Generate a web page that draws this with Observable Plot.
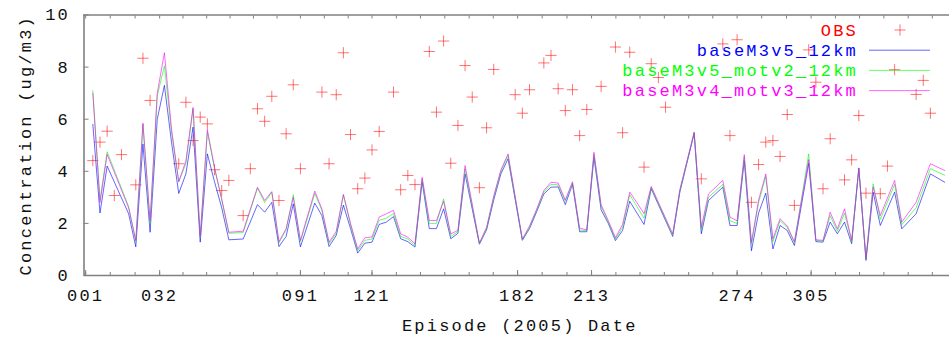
<!DOCTYPE html>
<html>
<head>
<meta charset="utf-8">
<script src="https://cdn.jsdelivr.net/npm/d3@7"></script>
<script src="https://cdn.jsdelivr.net/npm/@observablehq/plot@0.6"></script>
<style>
  html, body { margin: 0; padding: 0; background: #fff; }
  #chart { width: 949px; height: 340px; }
</style>
</head>
<body>
<div id="chart"></div>
<script>
// Sampling days (day of year, 2005) of the model runs
const days = [4,7,10,19,22,25,28,31,34,37,40,43,46,49,52,55,58,61,67,73,76,79,82,85,88,91,97,100,103,106,109,112,115,118,121,124,127,130,133,136,139,142,145,148,151,154,157,160,166,169,172,175,178,184,187,190,193,196,199,202,205,208,211,214,217,220,223,226,229,232,235,238,247,250,256,259,262,268,271,274,277,280,283,286,289,292,295,298,304,307,310,313,316,319,322,325,328,331,334,340,343,349,355,361];

// Modelled concentrations (ug/m3)
const baseM3v5_12km = [5.8,2.4,4.2,2.37,1.1,5.05,1.66,6.0,7.3,5.1,3.15,3.9,5.7,1.28,4.67,3.6,2.6,1.37,1.4,2.72,2.43,2.81,1.11,1.5,2.75,1.1,2.78,2.3,1.11,1.54,2.7,1.8,0.86,1.24,1.28,1.96,2.05,2.26,1.41,1.3,1.09,3.6,1.8,1.8,2.56,1.41,1.62,3.9,1.2,1.75,2.9,3.9,4.48,1.35,1.8,2.45,3.13,3.39,3.4,2.72,3.5,1.68,1.68,4.54,2.52,2.0,1.34,1.73,2.85,2.4,1.96,3.33,1.5,3.2,5.45,1.6,2.88,3.39,1.92,1.92,4.41,0.95,2.4,3.16,1.02,1.92,1.73,1.15,4.31,1.3,1.28,2.05,1.6,2.05,1.22,4.13,0.58,3.2,1.92,3.2,1.79,2.37,3.9,3.58];
const baseM3v5_motv2_12km = [7.1,2.9,4.75,2.65,1.3,5.8,2.0,6.9,8.05,5.5,3.6,4.3,6.4,1.45,5.5,4.1,2.9,1.62,1.65,3.35,2.8,3.2,1.25,1.75,3.1,1.3,3.15,2.5,1.22,1.62,3.1,1.95,0.95,1.35,1.4,2.12,2.2,2.38,1.5,1.4,1.15,3.7,2.0,2.0,2.94,1.5,1.68,4.1,1.22,1.8,3.0,4.0,4.6,1.37,1.85,2.5,3.2,3.5,3.48,2.85,3.55,1.75,1.72,4.65,2.65,2.05,1.4,1.85,3.1,2.65,2.2,3.38,1.55,3.25,5.5,1.75,3.0,3.5,2.1,2.0,4.55,1.2,2.8,3.8,1.3,2.1,1.85,1.25,4.67,1.35,1.32,2.3,1.7,2.4,1.3,4.1,0.62,3.52,2.15,3.5,1.95,2.6,4.1,3.85];
const baseM3v4_motv3_12km = [7.0,2.8,4.65,2.6,1.35,5.85,2.1,7.0,8.55,5.6,3.6,4.4,6.45,1.5,5.6,4.15,2.95,1.66,1.7,3.39,2.88,3.22,1.3,1.8,3.0,1.35,3.24,2.55,1.28,1.7,3.11,2.0,1.02,1.45,1.48,2.24,2.37,2.5,1.6,1.47,1.22,3.77,2.11,2.11,2.85,1.6,1.73,4.22,1.25,1.85,3.05,4.05,4.67,1.4,1.9,2.55,3.26,3.58,3.55,2.9,3.6,1.82,1.75,4.73,2.72,2.11,1.45,1.96,3.2,2.8,2.37,3.42,1.6,3.3,5.5,1.85,3.13,3.65,2.24,2.1,4.64,1.28,2.9,3.9,1.41,2.18,1.9,1.3,4.45,1.37,1.35,2.43,1.79,2.56,1.35,4.1,0.65,3.4,2.3,3.65,2.05,2.81,4.29,4.03];

// Observed concentrations
const obsDays = [4,7,10,13,16,22,25,28,40,43,46,49,52,55,58,61,67,70,73,76,79,82,85,88,91,100,103,106,109,112,115,118,121,124,130,133,136,139,145,148,151,154,157,160,163,166,169,172,181,184,187,193,196,199,202,205,208,211,217,223,226,229,235,238,241,244,259,268,271,274,280,283,286,289,292,295,298,304,307,310,313,319,322,325,328,334,337,340,349,352,355];
const obsValues = [4.41,5.12,5.54,3.07,4.64,3.48,8.34,6.72,4.29,6.65,5.18,6.08,5.82,4.06,3.26,3.65,2.3,4.1,6.4,5.92,6.88,2.88,5.44,7.32,4.1,7.04,4.29,6.94,8.55,5.41,3.33,3.74,4.82,5.53,7.04,3.29,3.84,3.49,8.6,6.27,9.0,4.31,5.76,8.06,6.85,3.37,5.67,7.91,6.94,6.23,7.13,8.16,8.45,7.17,6.33,7.13,5.37,6.37,7.26,8.77,5.48,8.57,4.16,8.13,7.6,6.46,3.71,8.89,5.37,9.05,2.81,4.26,5.12,5.18,4.57,6.18,2.69,8.66,7.42,3.33,5.25,3.67,4.44,6.14,3.16,3.14,4.2,7.9,6.95,7.49,6.23];

// Axis ticks
const labelDays = [1,32,91,121,182,213,274,305];
const labelText = ["001","032","091","121","182","213","274","305"];
const minorDays = [1,11.3,21.7,32,41.8,51.7,61.5,71.3,81.2,91,101,111,121,131.2,141.3,151.5,161.7,171.8,182,192.3,202.7,213,223.2,233.3,243.5,253.7,263.8,274,284.3,294.7,305,315.2,325.3,335.5,345.7,355.8];
const yTicks = [0,2,4,6,8,10];

const seriesNames = ["OBS","baseM3v5_12km","baseM3v5_motv2_12km","baseM3v4_motv3_12km"];
const seriesColors = ["#ff0000","#0000ff","#00ff00","#ff00ff"];

const xDomain = [0.3, 363];
const frameColor = "#808080";
const font = "'Liberation Mono', 'Courier New', monospace";

const model = days.map((d, i) => ({
  day: d,
  v5: baseM3v5_12km[i],
  v5m2: baseM3v5_motv2_12km[i],
  v4m3: baseM3v4_motv3_12km[i]
}));
const obs = obsDays.map((d, i) => ({day: d, value: obsValues[i]}));

const lineStyle = {strokeWidth: 1, strokeOpacity: 0.6};

const chart = Plot.plot({
  width: 949,
  height: 340,
  marginLeft: 83.5,
  marginRight: 0,
  marginTop: 14.5,
  marginBottom: 65,
  style: {fontFamily: font, fontSize: "17px", letterSpacing: "2.2px", background: "#fff", color: "#111", overflow: "visible"},
  x: {domain: xDomain, axis: null},
  y: {domain: [0, 10], axis: null},
  marks: [
    Plot.dot(obs, {x: "day", y: "value", symbol: "plus", r: 3.7, stroke: seriesColors[0], strokeOpacity: 0.55, strokeWidth: 1}),
    Plot.line(model, {x: "day", y: "v5", stroke: seriesColors[1], ...lineStyle}),
    Plot.line(model, {x: "day", y: "v5m2", stroke: seriesColors[2], ...lineStyle}),
    Plot.line(model, {x: "day", y: "v4m3", stroke: seriesColors[3], ...lineStyle}),
    // border on three sides
    Plot.ruleX([xDomain[0]], {stroke: frameColor, strokeWidth: 1.6}),
    Plot.ruleY([0, 10], {stroke: frameColor, strokeWidth: 1.6}),
    // inward ticks
    Plot.axisX(minorDays, {anchor: "bottom", tickSize: -3, tickFormat: () => "", stroke: frameColor, label: null}),
    Plot.axisX(minorDays, {anchor: "top", tickSize: -3, tickFormat: () => "", stroke: frameColor, label: null}),
    Plot.axisX(labelDays, {anchor: "bottom", tickSize: -5, tickFormat: () => "", stroke: frameColor, label: null}),
    Plot.axisX(labelDays, {anchor: "bottom", tickSize: 0, tickPadding: 13, tickFormat: (d, i) => labelText[i], label: null}),
    Plot.axisY(yTicks, {anchor: "left", tickSize: -5, tickFormat: () => "", stroke: frameColor, label: null}),
    Plot.axisY(yTicks, {anchor: "left", tickSize: 0, tickPadding: 14, label: null}),
    // axis titles
    Plot.text(["Concentration (ug/m3)"], {frameAnchor: "left", textAnchor: "middle", dx: -58, rotate: -90, fontSize: 17}),
    Plot.text(["Episode (2005) Date"], {frameAnchor: "bottom", dy: 55, dx: 3, fontSize: 17})
  ]
});

document.getElementById("chart").appendChild(chart);

// Key in the upper right corner of the plot area
const svg = d3.select(chart);
const key = svg.append("g")
  .attr("font-family", font)
  .attr("font-size", 17);
seriesNames.forEach((name, i) => {
  const y = 30 + i * 20.2;
  key.append("text")
    .attr("x", 858).attr("y", y).attr("dy", "0.34em")
    .attr("text-anchor", "end")
    .attr("fill", seriesColors[i])
    .text(name);
  if (i === 0) {
    key.append("path")
      .attr("d", `M${900 - 5.6},${y}h11.2M900,${y - 5.6}v11.2`)
      .attr("stroke", seriesColors[0]).attr("stroke-opacity", 0.55).attr("fill", "none");
  } else {
    key.append("line")
      .attr("x1", 869).attr("x2", 930).attr("y1", y).attr("y2", y)
      .attr("stroke", seriesColors[i]).attr("stroke-opacity", 0.6);
  }
});
</script>
</body>
</html>
